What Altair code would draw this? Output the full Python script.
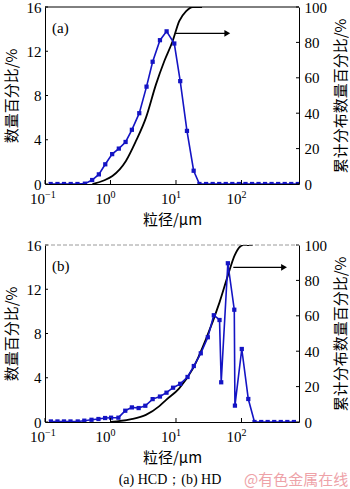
import altair as alt
import pandas as pd

SERIF = "Liberation Serif"
CJK = "Noto Sans CJK SC"
BLUE = "#1414c4"

# ---------- (a) HCD ----------
a_size = [0.122, 0.155, 0.195, 0.247, 0.313, 0.407, 0.525, 0.664, 0.832, 1.06, 1.34, 1.70,
          2.12, 2.75, 3.55, 4.40, 5.69, 7.19, 9.42, 11.6, 14.7, 18.6, 22.8, 28.8, 36.3,
          45.7, 57.5, 72.4, 91.2, 115, 145, 182, 229, 288, 363, 457, 575, 724]
a_count = [0, 0, 0, 0, 0, 0.03, 0.36, 0.87, 1.78, 2.7, 3.2, 3.8,
           4.9, 6.4, 8.8, 11.05, 13.0, 13.8, 12.7, 9.3, 4.8, 1.2, 0, 0, 0,
           0, 0, 0, 0, 0, 0, 0, 0, 0, 0, 0, 0, 0]
a_cum_size = [0.53, 0.79, 1.07, 1.72, 2.45, 3.48, 4.95, 6.64, 8.9, 11.2, 14.3, 18.0, 25.0]
a_cum = [0, 2, 4.5, 13, 24.3, 37.5, 56.3, 69.5, 80.8, 92, 97.7, 100, 100]
a_arrow = [9.9, 60.7, 85.1]

# ---------- (b) HD ----------
b_size = [0.123, 0.155, 0.195, 0.245, 0.316, 0.398, 0.513, 0.655, 0.828, 1.02, 1.32, 1.68,
          2.12, 2.69, 3.40, 4.40, 5.69, 7.16, 9.02, 11.6, 15.0, 18.7, 23.9, 30.6, 37.8,
          46.2, 49.0, 61.9, 77.6, 79.4, 101, 127, 158, 200, 251, 316, 398, 501, 631]
b_count = [0.05, 0.05, 0.05, 0.05, 0.05, 0.12, 0.2, 0.27, 0.36, 0.39, 0.39, 1.02,
           1.32, 1.26, 1.47, 2.07, 2.3, 2.65, 3.1, 3.45, 4.07, 5.06, 6.21, 7.66, 9.65,
           9.22, 3.59, 14.35, 10.15, 1.48, 6.6, 2.08, 0, 0, 0, 0, 0, 0, 0]
b_cum_size = [1.0, 2.0, 3.47, 5.57, 7.08, 11.2, 18.0, 28.8, 46.2, 61.9, 78.3, 105, 148]
b_cum = [0, 1.5, 4, 9, 12.5, 19, 30, 47, 67.6, 82.7, 94, 100, 100]
b_arrow = [75, 446, 87.4]

x_ticks = [0.1, 1, 10, 100]
x_exp = ["\u22121", "0", "1", "2"]
left_ticks = [0, 4, 8, 12, 16]
right_ticks = [0, 20, 40, 60, 80, 100]

W, H = 254, 177
XDOM = [0.1, 755]
LDOM = [0, 16]
RDOM = [0, 100]


def xenc(field):
    return alt.X(field, type="quantitative",
                 scale=alt.Scale(type="log", domain=XDOM, nice=False),
                 axis=alt.Axis(values=x_ticks, labels=False, ticks=False, grid=False,
                               domain=True, domainColor="black", domainWidth=1,
                               title="粒径/μm", titleFont=CJK, titleFontSize=15,
                               titleFontWeight="normal", titleColor="black",
                               titlePadding=28))


def panel(label, size, count, csize, cum, arrow, top_color, top_dash, extra=False):
    df_b = pd.DataFrame({"x": size, "y": count})
    df_c = pd.DataFrame({"x": csize, "y": cum})
    df_ar = pd.DataFrame({"x0": [arrow[0]], "x1": [arrow[1]], "y": [arrow[2]]})
    df_xt = pd.DataFrame({"x": x_ticks, "e": x_exp, "b": ["10"] * 4})
    df_lt = pd.DataFrame({"y": left_ticks})
    df_rt = pd.DataFrame({"y": right_ticks})

    cum_line = alt.Chart(df_c).mark_line(color="black", strokeWidth=1.8,
                                         interpolate="monotone", clip=True).encode(
        x=xenc("x"),
        y=alt.Y("y:Q", scale=alt.Scale(domain=RDOM, nice=False),
                axis=alt.Axis(orient="right", values=right_ticks, ticks=False, grid=False,
                              domain=True, domainColor="black", labelFont=SERIF,
                              labelFontSize=15, labelColor="black", labelPadding=5,
                              title="累计分布数量百分比/%", titleFont=CJK, titleFontSize=15,
                              titleFontWeight="normal", titleColor="black",
                              titleAngle=270, titlePadding=22)))

    blue_line = alt.Chart(df_b).mark_line(color=BLUE, strokeWidth=1.6, clip=True).encode(
        x=xenc("x"),
        y=alt.Y("y:Q", scale=alt.Scale(domain=LDOM, nice=False),
                axis=alt.Axis(orient="left", values=left_ticks, ticks=False, grid=False,
                              domain=True, domainColor="black", labelFont=SERIF,
                              labelFontSize=15, labelColor="black", labelPadding=4,
                              title="数量百分比/%", titleFont=CJK, titleFontSize=15,
                              titleFontWeight="normal", titleColor="black",
                              titlePadding=7)))

    blue_pts = alt.Chart(df_b).mark_point(shape="square", filled=True, color=BLUE,
                                          size=18, opacity=1, clip=True).encode(
        x=xenc("x"),
        y=alt.Y("y:Q", scale=alt.Scale(domain=LDOM, nice=False), axis=None))

    arrow_rule = alt.Chart(df_ar).mark_rule(color="black", strokeWidth=1.3).encode(
        x=xenc("x0"), x2="x1",
        y=alt.Y("y:Q", scale=alt.Scale(domain=RDOM, nice=False), axis=None))

    arrow_head = alt.Chart(df_ar).mark_point(shape="triangle-right", filled=True,
                                             color="black", size=45, opacity=1).encode(
        x=xenc("x1"),
        y=alt.Y("y:Q", scale=alt.Scale(domain=RDOM, nice=False), axis=None))

    lt = alt.Chart(df_lt).mark_rule(color="black", strokeWidth=1).encode(
        x=alt.value(0), x2=alt.value(3),
        y=alt.Y("y:Q", scale=alt.Scale(domain=LDOM, nice=False), axis=None))
    rt = alt.Chart(df_rt).mark_rule(color="black", strokeWidth=1).encode(
        x=alt.value(W - 3), x2=alt.value(W),
        y=alt.Y("y:Q", scale=alt.Scale(domain=RDOM, nice=False), axis=None))
    xt = alt.Chart(df_xt).mark_rule(color="black", strokeWidth=1).encode(
        x=xenc("x"), y=alt.value(H - 4), y2=alt.value(H))
    xl = alt.Chart(df_xt).mark_text(font=SERIF, fontSize=15, color="black", align="right",
                                    baseline="alphabetic", dx=0).encode(
        x=xenc("x"), y=alt.value(H + 20), text="b:N")
    xe = alt.Chart(df_xt).mark_text(font=SERIF, fontSize=10, color="black", align="left",
                                    baseline="alphabetic", dx=0).encode(
        x=xenc("x"), y=alt.value(H + 14), text="e:N")

    top_border = alt.Chart(pd.DataFrame({"a": [0]})).mark_rule(
        color=top_color, strokeWidth=1, strokeDash=top_dash).encode(
        x=alt.value(0), x2=alt.value(W), y=alt.value(0))

    lab = alt.Chart(pd.DataFrame({"t": [label]})).mark_text(
        font=SERIF, fontSize=15, color="black", align="left", baseline="alphabetic").encode(
        x=alt.value(7), y=alt.value(26), text="t:N")

    layers = [cum_line, blue_line, blue_pts, arrow_rule, arrow_head, lt, rt, xt, xl, xe,
              top_border, lab]
    if extra:
        cap = alt.Chart(pd.DataFrame({"t": ["(a) HCD；(b) HD"]})).mark_text(
            font=SERIF, fontSize=14, color="black", align="center",
            baseline="alphabetic").encode(x=alt.value(125), y=alt.value(239), text="t:N")
        wm = alt.Chart(pd.DataFrame({"t": ["@有色金属在线"]})).mark_text(
            font=CJK, fontSize=15, color="#eea2a8", align="left",
            baseline="alphabetic").encode(x=alt.value(199), y=alt.value(240), text="t:N")
        layers += [cap, wm]

    return alt.layer(*layers).resolve_scale(y="independent").properties(width=W, height=H)


top = panel("(a)", a_size, a_count, a_cum_size, a_cum, a_arrow, "black", [1, 0])
bottom = panel("(b)", b_size, b_count, b_cum_size, b_cum, b_arrow, "#9a9a9a", [4, 2],
               extra=True)

chart = alt.vconcat(top, bottom, spacing=11).properties(
    padding={"left": 4, "top": 0, "right": 0, "bottom": 0},
    background="white",
).configure_view(stroke=None)

chart.save("out.html", embed_options={"renderer": "svg", "actions": False})
